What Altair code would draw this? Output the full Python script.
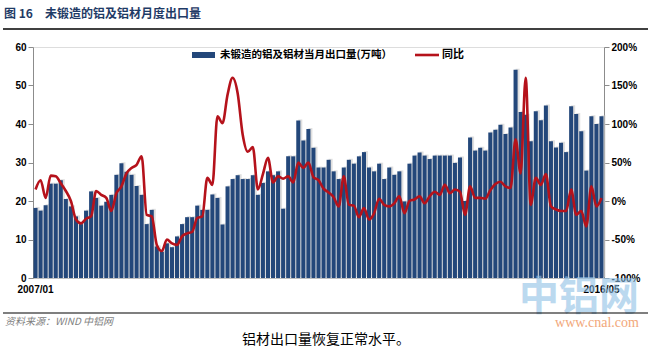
import altair as alt
import pandas as pd

# ---- data ----
months = [f"{y}/{m:02d}" for y in range(2007, 2017) for m in range(1, 13)][:113]

export_vol = [
    18.2, 17.5, 18.9, 24.5, 24.5, 25.4, 20.5, 18.6, 16.0, 14.0, 17.5, 22.5,
    20.8, 18.8, 19.8, 21.6, 26.8, 29.8, 27.6, 26.8, 23.9, 21.6, 14.0, 17.7,
    8.2, 6.8, 9.0, 8.0, 10.8, 14.0, 15.8, 15.8, 18.8, 17.7, 17.7, 21.7,
    20.8, 13.9, 23.8, 25.7, 26.7, 25.7, 25.7, 26.7, 21.6, 24.7, 27.7, 26.7,
    27.7, 18.0, 31.6, 31.6, 40.9, 35.7, 38.7, 33.8, 28.7, 28.7, 30.7, 27.7,
    25.7, 28.7, 30.7, 29.7, 31.6, 32.7, 28.7, 27.7, 29.7, 25.7, 28.7, 26.8,
    27.7, 19.9, 29.7, 31.8, 32.6, 31.8, 30.9, 31.8, 31.8, 31.8, 31.8, 29.9,
    31.3, 20.0, 36.5, 33.1, 33.8, 33.1, 37.8, 38.5, 39.8, 37.4, 39.1, 54.1,
    43.1, 42.4, 35.5, 43.3, 41.0, 44.8, 35.5, 33.9, 35.1, 32.7, 44.6, 42.6,
    38.1, 27.9, 42.0, 40.0, 42.0,
]

yoy_pct = [
    15, 27, 4, 33, 32, 23, 13, 0, -24, -29, -23, -20,
    13, 8, 4, -13, 10, 19, 36, 43, 47, 58, -18, -20,
    -57, -65, -50, -55, -57, -46, -42, -40, -22, -20, 30, 21,
    110, 101, 138, 160, 140, 86, 64, 70, 15, 35, 56, 24,
    32, 29, 32, 24, 50, 43, 50, 31, 27, 16, 11, 5,
    -7, 32, -5, -6, -21, -9, -24, -16, 3, -5, -7, -3,
    6, -16, 0, 2, 6, -3, 6, 12, 8, 21, 10, 15,
    12, -18, 19, 4, 4, 3, 14, 22, 25, 19, 17, 80,
    36, 160, -5, 30, 21, 35, -7, -11, -13, -13, 15, -18,
    -13, -33, 19, -7, 4,
]

left_ticks = [0, 10, 20, 30, 40, 50, 60]
right_ticks = [-100, -50, 0, 50, 100, 150, 200]

title_no = "图 16"
title_text = "未锻造的铝及铝材月度出口量"
legend_bar = "未锻造的铝及铝材当月出口量(万吨）"
legend_line = "同比"
source_text = "资料来源：WIND    中铝网"
caption_text = "铝材出口量恢复正常水平。"

df = pd.DataFrame({"month": months, "vol": export_vol, "yoy": yoy_pct})

BAR = "#23477a"
RED = "#b5121b"
FONT = "Noto Sans CJK SC"
NUMFONT = "Liberation Sans"

xenc = alt.X(
    "month:O", sort=None,
    scale=alt.Scale(paddingInner=0.2, paddingOuter=0.1),
    axis=alt.Axis(
        title=None, labelAngle=0, ticks=False, domainColor="#bfbfbf",
        labelExpr="datum.value == '2007/01' || datum.value == '2016/05' ? datum.value : ''",
        labelOverlap=False, labelBound=False, labelFont=NUMFONT,
        labelFontWeight="bold", labelFontSize=10, labelColor="#000000",
        labelPadding=6,
    ),
)

left_axis = alt.Axis(
    title=None, values=left_ticks, grid=False, domainColor="#8c8c8c",
    tickColor="#8c8c8c", tickSize=5, labelFont=NUMFONT,
    labelFontWeight="bold", labelFontSize=10, labelColor="#000000",
)
yvol = alt.Y("vol:Q", scale=alt.Scale(domain=[0, 60], nice=False), axis=left_axis)

shadow = alt.Chart(df).mark_bar(color="#c9c9c9", xOffset=2, yOffset=-1, opacity=0.6).encode(
    x=xenc, y=yvol,
)

bars = alt.Chart(df).mark_bar(color=BAR).encode(x=xenc, y=yvol)

line = alt.Chart(df).mark_line(color=RED, strokeWidth=2.6, interpolate="monotone").encode(
    x=xenc,
    y=alt.Y(
        "yoy:Q", scale=alt.Scale(domain=[-100, 200], nice=False),
        axis=alt.Axis(
            title=None, orient="right", values=right_ticks, grid=False,
            labelExpr="datum.value + '%'", domainColor="#8c8c8c",
            tickColor="#8c8c8c", tickSize=5, labelFont=NUMFONT,
            labelFontWeight="bold", labelFontSize=10, labelColor="#000000",
        ),
    ),
)

one = pd.DataFrame({"k": [0]})


def txt(s, x, y, size, color="#000000", weight="normal", align="left", style="normal", font=FONT, opacity=1.0):
    return alt.Chart(one).mark_text(
        text=s, align=align, baseline="middle", fontSize=size, color=color,
        fontWeight=weight, fontStyle=style, font=font, opacity=opacity,
    ).encode(x=alt.value(x), y=alt.value(y))


def hrule(x1, x2, y, color, width):
    return alt.Chart(one).mark_rule(color=color, strokeWidth=width).encode(
        x=alt.value(x1), x2=alt.value(x2), y=alt.value(y)
    )


annos = [
    txt(title_no, -29, -33, 12, color="#1f3b66", weight="bold"),
    txt(title_text, 12, -33, 12, color="#1f3b66", weight="bold"),
    hrule(-30, 615, -18, "#000000", 1.5),
    hrule(159, 182, 8, BAR, 6),
    txt(legend_bar, 187, 8, 10.5, weight="bold"),
    hrule(382, 406, 8, RED, 2.6),
    txt(legend_line, 409, 8, 11, weight="bold"),
    txt("中铝网", 546, 251, 40, color="#8fc0e6", weight="bold", align="center", opacity=0.6),
    hrule(-30, 615, 266, "#000000", 1.2),
    txt(source_text, -28, 275, 10, color="#7f7f7f", style="italic"),
    txt("www.cnal.com", 564, 276, 14, color="#f2a77a", align="center", font="Liberation Sans Narrow"),
    txt(caption_text, 293, 293, 14, align="center"),
]

main = alt.layer(alt.layer(shadow, bars), line).resolve_scale(y="independent")

chart = alt.layer(main, *annos).properties(
    width=571, height=231,
    padding={"left": 33, "top": 47, "right": 47, "bottom": 74},
    autosize=alt.AutoSizeParams(type="none"),
).configure_view(stroke=None).configure(background="#ffffff")

chart.save("out.html", embed_options={"renderer": "svg", "actions": False})
